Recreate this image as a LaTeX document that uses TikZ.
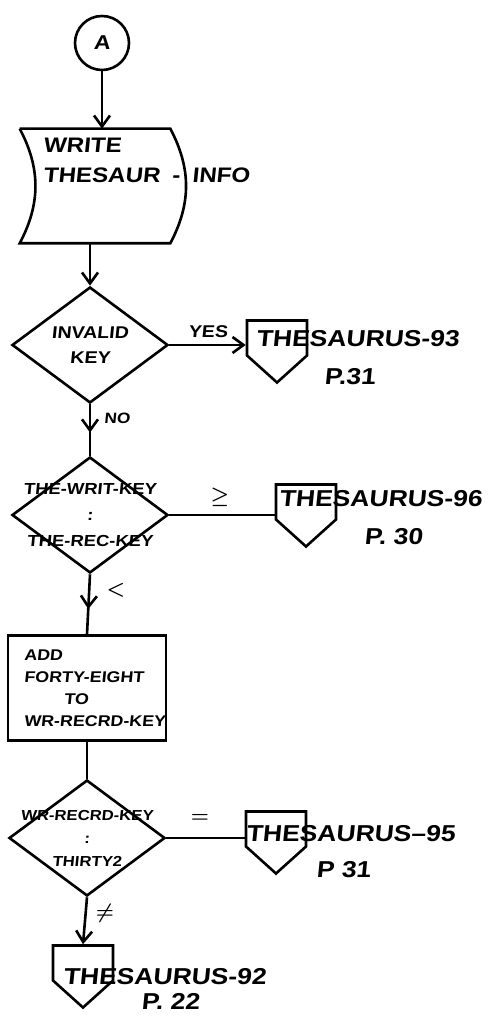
\documentclass[tikz,border=0pt]{standalone}
\usepackage{amsmath}
\usepackage{fontspec}
\setmainfont{Liberation Sans}[FakeStretch=1.15,FakeSlant=0.1]
\usetikzlibrary{arrows.meta,positioning,shapes.geometric,shapes.symbols,decorations.markings}

\begin{document}
\begin{tikzpicture}[x=1pt, y=1pt, line width=2.6pt, font=\bfseries,
  >={Straight Barb[length=11pt,width=16pt]},
  onpage/.style={circle, draw, minimum size=54pt, inner sep=0pt, font=\bfseries\fontsize{20}{24}\selectfont},
  decision/.style={diamond, draw, minimum width=156pt, minimum height=116pt, inner sep=0pt, align=center},
  process/.style={rectangle, draw, minimum width=158pt, minimum height=105pt, inner sep=0pt,
    text width=126pt, align=left, font=\bfseries\fontsize{15.5}{22}\selectfont},
  offpage/.style={signal, signal to=south, signal pointer angle=96, draw, minimum width=60pt,
    minimum height=35pt, inner sep=0pt},
  offtext/.style={anchor=base west, inner sep=0pt, font=\bfseries\fontsize{23}{26}\selectfont},
  edgetext/.style={inner sep=0pt, font=\bfseries\fontsize{17}{20}\selectfont},
  midarrow/.style={postaction={decorate}, decoration={markings, mark=at position #1 with {\arrow{>}}}}]
  \useasboundingbox (0,0) rectangle (489,1016);

  % connector and write step
  \node[onpage] (A) at (102,973) {A};
  \node[minimum width=148pt, minimum height=112pt, inner sep=0pt] (W) at (95,830) {};
  \draw (W.north west) -- (W.north east) to[bend left=28] (W.south east)
        -- (W.south west) to[bend right=28] (W.north west);
  \node[anchor=north west, align=left, inner sep=0pt, font=\bfseries\fontsize{21}{30}\selectfont]
        (Wtext) at (42,879) {WRITE\\THESAUR\hspace{12pt}-\hspace{12pt}INFO};

  % decisions and steps
  \node[decision, font=\bfseries\fontsize{17}{25}\selectfont] (Inv) at (90,671) {INVALID\\KEY};
  \node[decision, font=\bfseries\fontsize{16}{26}\selectfont] (Cmp) at (90,501)
        {\makebox[0pt]{THE-WRIT-KEY}\\:\\\makebox[0pt]{THE-REC-KEY}};
  \node[process] (Add) at (87,328)
        {ADD\\\mbox{FORTY-EIGHT}\\\hspace*{40pt}TO\\\mbox{WR-RECRD-KEY}};
  \node[decision, font=\bfseries\fontsize{14.5}{23}\selectfont] (Chk) at (87,178)
        {\makebox[0pt]{WR-RECRD-KEY}\\:\\\makebox[0pt]{THIRTY2}};

  % off-page connectors
  \node[offpage] (T93) at (277,678) {};
  \node[offtext] (T93a) at (255,669) {THESAURUS-93};
  \node[offtext] (T93b) at (323,631) {P.31};
  \node[offpage] (T96) at (306,514) {};
  \node[offtext] (T96a) at (278,509) {THESAURUS-96};
  \node[offtext] (T96b) at (363,471) {P. 30};
  \node[offpage] (T95) at (276,187) {};
  \node[offtext] (T95a) at (245,174) {THESAURUS--95};
  \node[offtext] (T95b) at (315,138) {P 31};
  \node[offpage] (T92) at (83,53) {};
  \node[offtext] (T92a) at (62,31) {THESAURUS-92};
  \node[offtext] (T92b) at (140,6) {P. 22};

  % branch labels
  \node[edgetext] (yes) at (208,684) {YES};
  \node[edgetext, font=\bfseries\fontsize{15}{18}\selectfont] (no) at (117,598) {NO};
  \node[edgetext, font=\fontsize{22}{22}\selectfont] (ge) at (220,519) {$\boldsymbol{\geq}$};
  \node[edgetext, font=\fontsize{22}{22}\selectfont] (lt) at (116,426) {$\boldsymbol{<}$};
  \node[edgetext, font=\fontsize{22}{22}\selectfont] (eq) at (200,198) {$\boldsymbol{=}$};
  \node[edgetext, font=\fontsize{22}{22}\selectfont] (ne) at (105,103) {$\boldsymbol{\neq}$};

  \draw[->] (A) -- (A |- W.north);
  \draw[->] (Inv |- W.south) -- (Inv.north);
  \draw[->] (Inv.east) -- (Inv.east -| T93.west);
  \draw[midarrow=0.55] (Inv.south) -- (Cmp.north);
  \draw (Cmp.east) -- (Cmp.east -| T96.west);
  \draw[midarrow=0.58] (Cmp.south) -- (Add.north);
  \draw (Add.south) -- (Chk.north);
  \draw (Chk.east) -- (Chk.east -| T95.west);
  \draw[->] (Chk.south) -- (T92.north);
\end{tikzpicture}
\end{document}
